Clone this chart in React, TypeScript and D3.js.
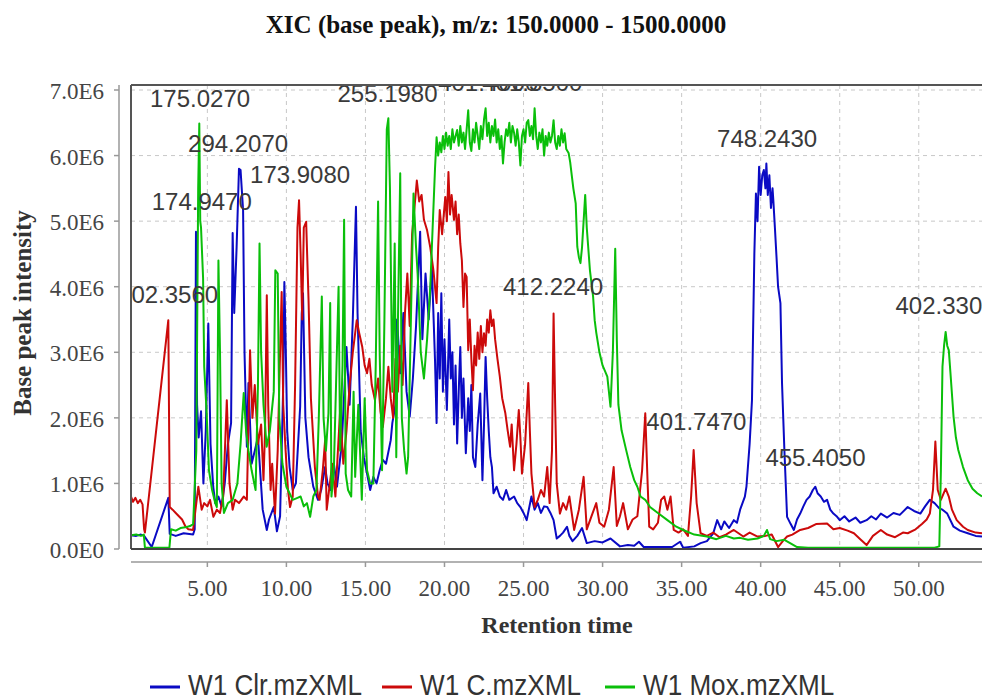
import React from "react";
import * as d3 from "d3";

const TITLE = "XIC (base peak), m/z: 150.0000 - 1500.0000";
const X_LABEL = "Retention time";
const Y_LABEL = "Base peak intensity";
const X_TICKS = [5, 10, 15, 20, 25, 30, 35, 40, 45, 50];
const X_TICK_LABELS = ["5.00", "10.00", "15.00", "20.00", "25.00", "30.00", "35.00", "40.00", "45.00", "50.00"];
const Y_TICKS = [0, 1, 2, 3, 4, 5, 6, 7];
const Y_TICK_LABELS = ["0.0E0", "1.0E6", "2.0E6", "3.0E6", "4.0E6", "5.0E6", "6.0E6", "7.0E6"];
const SERIES_NAMES = ["W1 Clr.mzXML", "W1 C.mzXML", "W1 Mox.mzXML"];

// [retention time (min), intensity (x1E6)]
const CLR: [number, number][] = [
  [0.17,0.21],[0.5,0.2],[0.8,0.22],[1.0,0.2],[1.48,0.03],[2.53,0.78],[2.62,0.23],[3.0,0.2],[3.5,0.24],[4.1,0.22],
  [4.2,0.3],[4.28,4.84],[4.35,2.2],[4.45,1.7],[4.6,2.1],[4.75,1.0],[4.9,1.8],[5.06,3.44],[5.2,1.6],[5.37,0.95],
  [5.5,0.7],[5.7,0.8],[5.9,0.65],[6.1,1.0],[6.3,1.6],[6.5,1.92],[6.6,4.82],[6.7,3.6],[6.85,4.6],[7.0,5.8],
  [7.1,5.78],[7.26,5.17],[7.35,3.0],[7.5,1.56],[7.6,2.53],[7.8,1.3],[8.0,1.5],[8.2,1.71],[8.5,0.6],[8.76,0.29],
  [8.9,0.45],[9.2,0.64],[9.4,0.27],[9.6,0.5],[9.8,2.5],[9.87,4.07],[9.95,3.2],[10.05,1.8],[10.2,1.25],[10.4,0.9],
  [10.6,1.0],[10.87,2.17],[10.97,3.59],[11.05,3.9],[11.2,2.0],[11.4,1.4],[11.7,0.95],[12.0,0.75],[12.2,0.9],[12.45,1.25],
  [12.6,1.0],[12.8,0.9],[13.0,1.3],[13.2,0.95],[13.5,1.6],[13.8,3.08],[14.0,2.2],[14.2,3.5],[14.4,5.22],[14.5,3.6],
  [14.7,1.8],[14.9,1.4],[15.1,1.15],[15.3,0.9],[15.5,1.1],[15.7,1.0],[15.9,1.2],[16.1,1.36],[16.3,1.3],[16.6,1.66],
  [16.7,1.92],[16.9,2.2],[17.0,3.5],[17.2,2.68],[17.4,3.6],[17.6,2.4],[17.8,2.02],[18.0,2.6],[18.2,3.4],[18.46,4.84],
  [18.6,3.2],[18.8,4.2],[19.0,3.5],[19.2,4.3],[19.4,2.88],[19.5,1.92],[19.6,3.6],[19.7,2.6],[19.8,3.9],[19.9,2.4],
  [20.0,3.2],[20.15,2.12],[20.3,3.5],[20.4,2.6],[20.5,3.0],[20.6,1.9],[20.7,2.8],[20.8,1.61],[20.9,2.4],[21.0,3.08],
  [21.1,2.0],[21.2,2.6],[21.35,1.46],[21.5,2.3],[21.6,1.8],[21.7,2.5],[21.8,1.4],[21.95,1.25],[22.1,1.9],[22.26,2.37],
  [22.4,1.05],[22.5,1.9],[22.6,2.93],[22.7,2.3],[22.8,1.8],[22.9,1.4],[23.0,1.25],[23.1,0.85],[23.3,0.95],[23.5,0.8],
  [23.7,0.75],[23.9,0.9],[24.1,0.75],[24.4,0.8],[24.6,0.7],[24.8,0.64],[25.0,0.55],[25.2,0.44],[25.5,0.8],[25.7,0.6],
  [25.9,0.7],[26.1,0.55],[26.3,0.65],[26.5,0.64],[26.7,0.55],[26.9,0.44],[27.1,0.16],[27.3,0.2],[27.5,0.25],[27.75,0.34],
  [27.9,0.2],[28.1,0.12],[28.4,0.2],[28.7,0.32],[29.0,0.09],[29.5,0.12],[30.0,0.1],[30.5,0.16],[31.1,0.04],[31.6,0.06],
  [32.0,0.05],[32.3,0.11],[32.6,0.03],[33.5,0.03],[34.4,0.03],[34.9,0.11],[35.1,0.02],[35.8,0.04],[36.2,0.09],[36.6,0.12],
  [37.0,0.24],[37.25,0.44],[37.5,0.3],[37.7,0.42],[38.0,0.32],[38.3,0.44],[38.5,0.4],[38.7,0.6],[39.0,0.8],[39.1,0.95],
  [39.3,1.6],[39.45,2.27],[39.6,4.5],[39.7,5.42],[39.8,5.0],[39.9,5.83],[40.0,5.4],[40.1,5.7],[40.2,5.78],[40.3,5.5],
  [40.36,5.88],[40.45,5.4],[40.55,5.7],[40.65,5.2],[40.75,5.5],[40.8,5.32],[40.9,4.9],[41.0,4.46],[41.1,4.0],[41.25,3.75],
  [41.35,2.53],[41.5,1.51],[41.67,0.49],[41.9,0.38],[42.1,0.29],[42.3,0.45],[42.5,0.54],[42.7,0.65],[42.9,0.75],[43.1,0.8],
  [43.3,0.9],[43.46,0.95],[43.6,0.85],[43.8,0.8],[44.0,0.72],[44.2,0.75],[44.4,0.6],[44.6,0.54],[44.8,0.5],[45.0,0.44],
  [45.3,0.5],[45.6,0.42],[46.0,0.48],[46.3,0.4],[46.7,0.44],[47.0,0.5],[47.3,0.45],[47.6,0.54],[48.0,0.48],[48.4,0.55],
  [48.8,0.52],[49.3,0.64],[49.7,0.58],[50.1,0.54],[50.4,0.65],[50.7,0.75],[51.0,0.7],[51.3,0.62],[51.5,0.6],[51.8,0.54],
  [52.2,0.34],[52.6,0.28],[53.1,0.24],[53.6,0.2],[54.0,0.19],
];

const C: [number, number][] = [
  [0.17,0.8],[0.3,0.72],[0.45,0.78],[0.6,0.7],[0.75,0.75],[0.9,0.68],[1.0,0.3],[1.05,0.25],[2.53,3.49],[2.62,0.64],
  [2.8,0.6],[3.0,0.55],[3.2,0.5],[3.4,0.45],[3.6,0.35],[3.8,0.3],[4.1,0.29],[4.25,0.6],[4.43,0.95],[4.64,0.6],
  [4.8,0.7],[5.0,0.65],[5.17,0.75],[5.38,0.49],[5.6,0.6],[5.8,0.55],[6.0,0.8],[6.23,2.27],[6.4,1.0],[6.6,0.6],
  [6.75,0.75],[7.0,0.7],[7.3,0.8],[7.5,0.75],[7.7,3.03],[7.85,2.0],[8.0,2.5],[8.2,1.6],[8.4,1.9],[8.55,1.05],
  [8.65,1.8],[8.76,3.87],[8.85,2.2],[9.0,0.9],[9.1,1.3],[9.28,0.54],[9.45,1.5],[9.6,3.0],[9.7,3.92],[9.8,2.2],
  [9.95,1.5],[10.1,0.9],[10.23,0.64],[10.4,0.8],[10.55,2.5],[10.7,4.9],[10.8,5.32],[10.9,4.5],[11.0,3.5],[11.1,4.9],
  [11.25,4.99],[11.4,3.8],[11.55,2.3],[11.8,1.25],[12.0,0.8],[12.1,0.75],[12.3,1.2],[12.45,1.66],[12.55,0.6],[12.7,0.9],
  [12.9,1.3],[13.1,0.8],[13.4,2.12],[13.6,1.3],[13.8,1.8],[14.0,2.5],[14.2,3.0],[14.45,3.49],[14.6,3.3],[14.8,3.08],
  [14.95,2.8],[15.1,2.68],[15.25,2.9],[15.4,2.5],[15.6,2.27],[15.8,2.6],[15.95,2.1],[16.1,1.86],[16.3,2.3],[16.45,2.78],
  [16.6,2.3],[16.75,2.0],[16.9,2.9],[17.05,2.4],[17.2,3.1],[17.35,2.5],[17.5,3.6],[17.65,4.2],[17.8,3.4],[17.95,4.8],
  [18.1,5.2],[18.25,5.62],[18.4,5.3],[18.55,5.4],[18.7,5.02],[18.9,4.86],[19.1,4.6],[19.3,4.25],[19.5,3.75],[19.6,4.6],
  [19.7,5.17],[19.85,4.8],[20.05,5.37],[20.15,5.0],[20.25,5.75],[20.35,5.1],[20.45,5.4],[20.6,5.02],[20.7,5.3],[20.8,4.8],
  [20.9,5.1],[21.0,4.66],[21.1,4.4],[21.2,3.69],[21.3,4.2],[21.4,4.15],[21.5,3.03],[21.6,3.5],[21.7,2.9],[21.8,2.42],
  [21.9,3.1],[22.0,2.8],[22.1,3.3],[22.2,2.9],[22.3,3.4],[22.4,3.0],[22.5,3.29],[22.6,3.1],[22.7,3.5],[22.8,3.3],
  [22.9,3.64],[23.0,3.4],[23.1,3.5],[23.2,3.2],[23.35,2.9],[23.5,2.63],[23.65,2.3],[23.85,2.07],[24.0,1.8],[24.15,1.56],
  [24.25,1.9],[24.4,1.2],[24.55,1.6],[24.7,2.12],[24.8,1.7],[24.9,1.15],[25.1,1.6],[25.3,2.53],[25.4,1.8],[25.5,1.15],
  [25.7,0.64],[25.9,0.75],[26.1,0.9],[26.3,0.8],[26.5,1.25],[26.65,0.7],[26.8,1.5],[26.9,3.59],[27.0,2.2],[27.1,1.0],
  [27.3,0.54],[27.5,0.7],[27.7,0.6],[27.9,0.8],[28.2,0.29],[28.5,0.6],[28.8,1.1],[29.0,0.3],[29.3,0.5],[29.6,0.7],
  [29.8,0.4],[30.1,0.34],[30.4,0.6],[30.7,1.25],[30.9,0.35],[31.1,0.5],[31.3,0.7],[31.6,0.3],[31.9,0.45],[32.2,0.5],
  [32.5,1.2],[32.7,2.07],[32.85,1.0],[32.95,0.34],[33.2,0.3],[33.5,0.4],[33.7,0.75],[33.9,0.8],[34.1,0.6],[34.3,0.8],
  [34.5,0.29],[34.8,0.25],[35.1,0.3],[35.4,0.2],[35.6,0.8],[35.76,1.51],[35.95,0.7],[36.2,0.24],[36.6,0.2],[37.0,0.25],
  [37.4,0.18],[37.8,0.22],[38.3,0.29],[38.9,0.19],[39.3,0.25],[39.8,0.19],[40.3,0.2],[40.7,0.22],[41.1,0.03],[41.4,0.12],
  [41.67,0.19],[42.0,0.22],[42.5,0.29],[43.0,0.32],[43.5,0.38],[44.2,0.39],[44.6,0.3],[45.0,0.32],[45.5,0.28],[45.9,0.24],
  [46.3,0.15],[46.7,0.06],[47.1,0.2],[47.6,0.29],[48.0,0.22],[48.5,0.18],[49.0,0.25],[49.3,0.24],[49.8,0.3],[50.2,0.38],
  [50.5,0.45],[50.7,0.54],[50.9,0.9],[51.05,1.64],[51.2,0.9],[51.4,0.75],[51.7,0.92],[51.9,0.8],[52.1,0.6],[52.4,0.44],
  [52.8,0.34],[53.1,0.29],[53.6,0.25],[54.0,0.24],
];

const MOX: [number, number][] = [
  [0.17,0.21],[0.5,0.22],[0.8,0.2],[0.98,0.22],[1.05,0.02],[2.6,0.02],[2.7,0.3],[3.0,0.28],[3.3,0.32],[3.6,0.33],
  [3.9,0.35],[4.1,0.38],[4.3,1.5],[4.42,5.5],[4.49,6.49],[4.55,5.0],[4.6,4.9],[4.73,4.13],[4.8,2.78],[4.95,2.1],
  [5.1,1.2],[5.3,0.9],[5.5,0.7],[5.6,0.64],[5.65,2.5],[5.7,4.4],[5.8,3.0],[5.9,1.0],[6.05,0.55],[6.3,0.7],
  [6.6,0.75],[6.9,1.0],[7.1,1.6],[7.3,2.38],[7.45,1.8],[7.6,1.5],[7.8,1.2],[8.05,0.9],[8.2,2.5],[8.3,4.66],
  [8.4,3.0],[8.55,2.2],[8.75,1.56],[8.95,1.8],[9.2,2.4],[9.3,4.25],[9.45,4.2],[9.55,2.0],[9.75,1.3],[10.0,0.95],
  [10.2,0.85],[10.4,0.75],[10.7,0.78],[10.9,0.8],[11.1,0.65],[11.3,0.7],[11.5,0.49],[11.7,0.8],[11.9,0.9],[12.05,2.0],
  [12.24,3.85],[12.35,2.0],[12.5,1.5],[12.66,2.07],[12.77,3.75],[12.85,0.8],[13.0,1.2],[13.15,2.6],[13.3,4.0],[13.4,1.5],
  [13.55,2.8],[13.65,5.02],[13.75,1.15],[13.9,0.9],[14.1,0.8],[14.25,2.4],[14.35,1.1],[14.55,2.2],[14.77,0.75],[14.95,2.3],
  [15.1,1.2],[15.3,1.0],[15.5,1.0],[15.65,2.8],[15.8,5.3],[15.9,3.0],[16.05,1.2],[16.2,3.5],[16.35,6.4],[16.45,6.57],
  [16.55,5.5],[16.7,2.4],[16.85,4.66],[16.95,1.4],[17.05,3.4],[17.2,5.73],[17.3,2.0],[17.45,1.5],[17.6,1.15],[17.7,1.4],
  [17.85,3.2],[18.04,5.42],[18.2,4.6],[18.3,4.2],[18.5,3.0],[18.7,2.6],[18.9,3.2],[19.1,4.0],[19.25,4.9],[19.4,5.8],
  [19.5,6.28],[19.6,6.0],[19.7,6.2],[19.8,6.05],[19.9,6.3],[20.0,6.1],[20.1,6.35],[20.2,6.15],[20.3,6.3],[20.4,6.1],
  [20.5,6.4],[20.6,6.2],[20.7,6.3],[20.8,6.39],[20.9,6.15],[21.0,6.45],[21.1,6.2],[21.2,6.35],[21.3,6.1],[21.4,6.4],
  [21.5,6.69],[21.6,6.2],[21.7,6.07],[21.8,6.4],[21.9,6.2],[22.0,6.5],[22.1,6.3],[22.2,6.1],[22.3,6.45],[22.4,6.25],
  [22.5,6.55],[22.6,6.72],[22.7,6.3],[22.8,6.5],[22.9,6.2],[23.0,6.45],[23.1,6.3],[23.2,6.55],[23.3,6.2],[23.4,6.4],
  [23.5,6.1],[23.6,6.3],[23.7,5.88],[23.8,6.2],[23.9,6.4],[24.0,6.3],[24.1,6.5],[24.2,6.2],[24.3,6.45],[24.4,6.35],
  [24.5,6.15],[24.6,6.4],[24.7,6.2],[24.8,5.85],[24.9,6.3],[25.0,6.4],[25.1,6.2],[25.2,6.5],[25.3,6.54],[25.4,6.3],
  [25.5,6.45],[25.6,6.25],[25.7,6.72],[25.8,6.3],[25.9,6.1],[26.0,6.35],[26.1,6.2],[26.2,6.4],[26.3,6.0],[26.4,6.3],
  [26.5,6.15],[26.6,6.35],[26.7,6.2],[26.8,6.3],[26.9,6.54],[27.0,6.2],[27.1,6.1],[27.2,6.3],[27.3,6.15],[27.4,6.4],
  [27.5,6.2],[27.6,6.34],[27.7,6.1],[27.85,6.04],[27.95,5.9],[28.06,5.68],[28.15,5.5],[28.3,5.27],[28.4,4.61],[28.5,4.45],
  [28.6,4.36],[28.7,4.6],[28.8,5.0],[28.9,5.4],[29.0,4.9],[29.2,4.25],[29.4,3.85],[29.5,3.49],[29.6,3.3],[29.8,3.0],
  [30.0,2.8],[30.3,2.63],[30.5,2.17],[30.65,3.0],[30.8,4.58],[30.9,3.2],[31.0,2.2],[31.2,1.81],[31.5,1.5],[31.75,1.25],
  [32.0,1.05],[32.2,0.95],[32.4,0.8],[32.7,0.75],[33.0,0.64],[33.5,0.55],[34.1,0.44],[34.6,0.35],[35.1,0.29],[35.8,0.22],
  [36.6,0.19],[37.2,0.15],[37.8,0.2],[38.3,0.16],[38.7,0.17],[39.2,0.14],[39.8,0.16],[40.2,0.2],[40.4,0.29],[40.6,0.15],
  [41.0,0.12],[41.5,0.14],[42.0,0.07],[42.3,0.03],[43.0,0.02],[45.0,0.02],[47.0,0.02],[49.0,0.02],[51.0,0.02],[51.3,0.04],
  [51.4,1.2],[51.5,2.78],[51.6,3.1],[51.7,3.31],[51.8,3.1],[51.9,3.03],[52.0,2.7],[52.2,2.02],[52.35,1.7],[52.5,1.51],
  [52.8,1.25],[53.1,1.05],[53.4,0.92],[53.7,0.85],[54.0,0.8],
];

// peak annotation labels: text, time and intensity of the label's left baseline
const PEAK_LABELS: { text: string; t: number; v: number }[] = [
  { text: "175.0270", t: 1.37, v: 6.74 },
  { text: "294.2070", t: 3.78, v: 6.05 },
  { text: "173.9080", t: 7.7, v: 5.58 },
  { text: "174.9470", t: 1.48, v: 5.17 },
  { text: "402.3560", t: -0.65, v: 3.75 },
  { text: "255.1980", t: 13.23, v: 6.81 },
  { text: "401.4000", t: 19.6, v: 6.98 },
  { text: "401.3500", t: 22.39, v: 6.98 },
  { text: "412.2240", t: 23.7, v: 3.87 },
  { text: "748.2430", t: 37.24, v: 6.13 },
  { text: "402.3300", t: 48.53, v: 3.59 },
  { text: "401.7470", t: 32.77, v: 1.81 },
  { text: "455.4050", t: 40.3, v: 1.27 },
];

const SERIES = [CLR, C, MOX];
const COLORS = ["#0a0ac4", "#cc0a0a", "#0abf0a"];

const W = 982;
const H = 699;
const PLOT = { left: 131, right: 982, top: 85, bottom: 549 };

export default function App() {
  const x = d3.scaleLinear().domain([0.17, 54]).range([PLOT.left, PLOT.right]);
  const y = d3.scaleLinear().domain([0, 7]).range([PLOT.bottom, 90]);
  const line = d3
    .line<[number, number]>()
    .x((d) => x(d[0]))
    .y((d) => y(d[1]));

  const serif = "'Liberation Serif', 'Times New Roman', serif";
  const sans = "'Liberation Sans', Arial, sans-serif";
  const yAxisX = 119;
  const xAxisY = 562;

  const legendX = [150, 382, 605];

  return (
    <svg
      width={W}
      height={H}
      style={{ position: "absolute", left: 0, top: 0, background: "#fff" }}
    >
      <defs>
        <clipPath id="plotclip">
          <rect x={PLOT.left} y={PLOT.top} width={PLOT.right - PLOT.left} height={PLOT.bottom - PLOT.top + 2} />
        </clipPath>
      </defs>
      <rect x={0} y={0} width={W} height={H} fill="#fff" />
      <text x={496} y={33} textAnchor="middle" fontFamily={serif} fontWeight="bold" fontSize={25} fill="#111">
        {TITLE}
      </text>

      {/* grid */}
      {X_TICKS.map((t) => (
        <line key={"gx" + t} x1={x(t)} x2={x(t)} y1={PLOT.top} y2={PLOT.bottom} stroke="#c8c8c8" strokeWidth={1} strokeDasharray="4,4" />
      ))}
      {Y_TICKS.filter((v) => v > 0).map((v) => (
        <line key={"gy" + v} x1={PLOT.left} x2={PLOT.right} y1={y(v)} y2={y(v)} stroke="#c8c8c8" strokeWidth={1} strokeDasharray="4,4" />
      ))}

      {/* series */}
      <g clipPath="url(#plotclip)">
        {SERIES.map((s, i) => (
          <path key={i} d={line(s) || ""} fill="none" stroke={COLORS[i]} strokeWidth={2} strokeLinejoin="round" />
        ))}
        {PEAK_LABELS.map((p) => (
          <text key={p.text + p.t} x={x(p.t)} y={y(p.v)} fontFamily={sans} fontSize={24} fill="#3a3a3a">
            {p.text}
          </text>
        ))}
      </g>

      {/* frame */}
      <line x1={PLOT.left} x2={PLOT.left} y1={PLOT.top} y2={PLOT.bottom} stroke="#555" strokeWidth={2} />
      <line x1={PLOT.left} x2={PLOT.right} y1={PLOT.top} y2={PLOT.top} stroke="#555" strokeWidth={2} />
      <line x1={PLOT.left} x2={PLOT.right} y1={PLOT.bottom} y2={PLOT.bottom} stroke="#444" strokeWidth={2} />

      {/* y axis */}
      <line x1={yAxisX} x2={yAxisX} y1={PLOT.top} y2={PLOT.bottom} stroke="#999" strokeWidth={1.5} />
      {Y_TICKS.map((v, i) => (
        <g key={"yt" + v}>
          <line x1={yAxisX - 5} x2={yAxisX} y1={y(v)} y2={y(v)} stroke="#999" strokeWidth={1.5} />
          <text x={104} y={y(v) + 9} textAnchor="end" fontFamily={serif} fontSize={23} fill="#444">
            {Y_TICK_LABELS[i]}
          </text>
        </g>
      ))}
      <text
        transform={`translate(31,313) rotate(-90)`}
        textAnchor="middle"
        fontFamily={serif}
        fontWeight="bold"
        fontSize={25}
        fill="#333"
      >
        {Y_LABEL}
      </text>

      {/* x axis */}
      <line x1={PLOT.left} x2={PLOT.right} y1={xAxisY} y2={xAxisY} stroke="#999" strokeWidth={1.5} />
      {X_TICKS.map((t, i) => (
        <g key={"xt" + t}>
          <line x1={x(t)} x2={x(t)} y1={xAxisY} y2={xAxisY + 5} stroke="#999" strokeWidth={1.5} />
          <text x={x(t)} y={596} textAnchor="middle" fontFamily={serif} fontSize={23} fill="#444">
            {X_TICK_LABELS[i]}
          </text>
        </g>
      ))}
      <text x={557} y={633} textAnchor="middle" fontFamily={serif} fontWeight="bold" fontSize={24} fill="#333">
        {X_LABEL}
      </text>

      {/* legend */}
      {SERIES_NAMES.map((name, i) => (
        <g key={name}>
          <line x1={legendX[i]} x2={legendX[i] + 30} y1={687} y2={687} stroke={COLORS[i]} strokeWidth={3} />
          <text
            transform={`translate(${legendX[i] + 38},695) scale(0.9,1)`}
            fontFamily={sans}
            fontSize={29}
            fill="#333"
          >
            {name}
          </text>
        </g>
      ))}
    </svg>
  );
}
